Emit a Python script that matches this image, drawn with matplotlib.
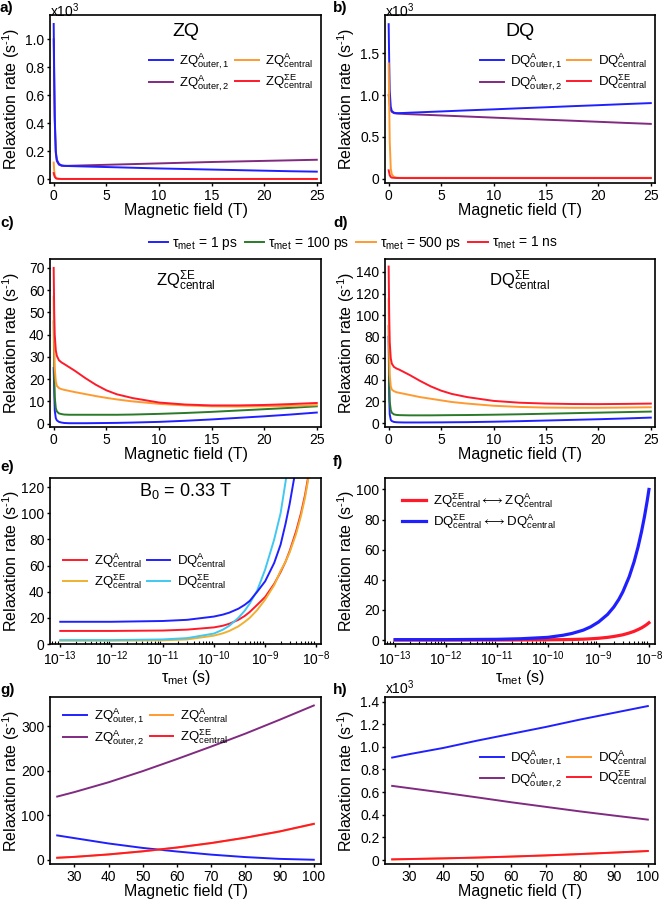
import matplotlib
matplotlib.use("Agg")
import matplotlib.pyplot as plt
from matplotlib.ticker import LogLocator, NullFormatter

plt.rcParams["font.family"] = ["Liberation Sans", "DejaVu Sans"]
plt.rcParams["mathtext.fontset"] = "custom"
plt.rcParams["mathtext.rm"] = "Liberation Sans"
plt.rcParams["mathtext.it"] = "Liberation Sans:italic"
plt.rcParams["mathtext.default"] = "regular"
plt.rcParams["axes.linewidth"] = 1.2

# colours
BLUE = "#2020ff"
PURPLE = "#802a80"
ORANGE = "#ff9a30"
RED = "#ff1a2a"
GREEN = "#2a7a2a"
GOLD = "#f0b030"
CYAN = "#40c8f0"

# ---- a) / b) : 0-25 T, values in 10^3 s^-1
B_low = [0, 0.05, 0.1, 0.2, 0.3, 0.5, 0.75, 1, 1.5, 2, 3, 5, 7.5, 10, 12.5, 15, 17.5, 20, 22.5, 25]
zq_out1 = [1.11, 0.75, 0.45, 0.2, 0.14, 0.11, 0.1, 0.097, 0.095, 0.094, 0.092, 0.088, 0.083, 0.078, 0.074, 0.07, 0.066, 0.062, 0.058, 0.055]
zq_out2 = [1.0, 0.7, 0.42, 0.19, 0.13, 0.105, 0.097, 0.096, 0.097, 0.098, 0.1, 0.104, 0.109, 0.114, 0.119, 0.124, 0.128, 0.132, 0.136, 0.14]
zq_cen = [0.12, 0.06, 0.03, 0.012, 0.006, 0.003, 0.002, 0.002, 0.002, 0.002, 0.002, 0.002, 0.002, 0.002, 0.002, 0.002, 0.002, 0.002, 0.002, 0.002]
zq_se = [0.045, 0.03, 0.018, 0.008, 0.005, 0.004, 0.003, 0.003, 0.003, 0.003, 0.003, 0.003, 0.003, 0.003, 0.003, 0.003, 0.003, 0.003, 0.003, 0.003]
dq_out1 = [1.85, 1.4, 1.05, 0.86, 0.81, 0.79, 0.785, 0.785, 0.787, 0.79, 0.795, 0.805, 0.818, 0.83, 0.843, 0.855, 0.868, 0.88, 0.893, 0.905]
dq_out2 = [1.0, 0.95, 0.88, 0.82, 0.8, 0.785, 0.78, 0.778, 0.775, 0.772, 0.767, 0.757, 0.744, 0.731, 0.718, 0.706, 0.694, 0.681, 0.668, 0.656]
dq_cen = [1.38, 0.9, 0.45, 0.12, 0.05, 0.02, 0.012, 0.01, 0.01, 0.01, 0.01, 0.01, 0.01, 0.01, 0.01, 0.01, 0.01, 0.01, 0.01, 0.01]
dq_se = [0.1, 0.07, 0.04, 0.02, 0.012, 0.01, 0.008, 0.008, 0.007, 0.007, 0.007, 0.007, 0.007, 0.007, 0.007, 0.007, 0.007, 0.007, 0.007, 0.007]

# ---- c) / d) : central SigmaE for several tau_met
B_cd = [0, 0.05, 0.1, 0.2, 0.3, 0.5, 0.75, 1, 1.5, 2, 3, 4, 5, 6, 7.5, 10, 12.5, 15, 17.5, 20, 22.5, 25]
tau_labels = ["1 ps", "100 ps", "500 ps", "1 ns"]
zq_se_1ps = [25, 15, 6, 2.5, 1.5, 0.8, 0.5, 0.3, 0.2, 0.2, 0.2, 0.25, 0.3, 0.35, 0.5, 0.8, 1.3, 1.9, 2.6, 3.3, 4.1, 5.0]
zq_se_100ps = [46, 22, 12, 7, 5.5, 4.6, 4.3, 4.1, 4.0, 4.0, 4.0, 4.0, 4.0, 4.0, 4.1, 4.4, 4.8, 5.3, 5.9, 6.5, 7.1, 7.8]
zq_se_500ps = [57, 35, 25, 19, 17, 16, 15.5, 15.2, 14.7, 14.2, 13.3, 12.4, 11.6, 10.9, 10.0, 8.9, 8.2, 7.8, 7.7, 7.8, 8.0, 8.3]
zq_se_1ns = [70, 50, 40, 33, 30.5, 28.5, 27.5, 26.8, 25.3, 23.8, 20.5, 17.5, 15, 13.2, 11.5, 9.5, 8.6, 8.2, 8.2, 8.4, 8.8, 9.3]
dq_se_1ps = [80, 25, 8, 3, 1.8, 1.0, 0.7, 0.6, 0.5, 0.5, 0.5, 0.55, 0.6, 0.7, 0.8, 1.2, 1.7, 2.3, 2.9, 3.5, 4.2, 5.0]
dq_se_100ps = [90, 40, 20, 12, 9.5, 8, 7.5, 7.3, 7.2, 7.1, 7.1, 7.1, 7.2, 7.3, 7.4, 7.7, 8.1, 8.6, 9.1, 9.6, 10.1, 10.6]
dq_se_500ps = [115, 70, 45, 34, 31, 29.5, 28.5, 28, 27, 26, 24, 22.5, 21, 19.5, 18, 16, 14.9, 14.3, 14.1, 14.1, 14.3, 14.6]
dq_se_1ns = [145, 100, 75, 60, 55, 52, 50.5, 49.5, 47, 44.5, 39, 34, 30, 27, 24, 20.5, 18.8, 18, 17.6, 17.5, 17.7, 18]

# ---- e) : rates vs tau_met at B0 = 0.33 T
tau_e = [1e-13, 1e-12, 1e-11, 3e-11, 1e-10, 1.5e-10, 2e-10, 3e-10, 4e-10, 5e-10, 7e-10, 1e-9,
         1.5e-9, 2e-9, 2.5e-9, 3e-9, 4e-9, 5e-9, 6e-9, 7e-9]
e_zq_a = [10, 10, 10.3, 11, 12.7, 14, 15.5, 18.5, 21.5, 24.5, 30, 36, 46, 55, 63, 71, 86, 100, 114, 129]
e_zq_se = [2.5, 2.5, 2.8, 3.5, 6.4, 8.2, 10, 13.5, 17, 20, 26, 34, 45, 56, 63, 70, 84, 98, 112, 127]
e_dq_a = [17, 17, 17.6, 18.5, 21, 22.5, 24, 27, 30, 33, 40, 48, 62, 76, 92, 107, 135, 160, 185, 210]
e_dq_se = [3, 3, 3.5, 4.5, 8, 11, 14, 20, 25.5, 31, 41, 57, 80, 100, 124, 148, 195, 240, 285, 330]

# ---- f) : cross relaxation
tau_f = [1e-13, 1e-12, 1e-11, 3e-11, 1e-10, 2e-10, 3e-10, 5e-10, 7e-10, 1e-9, 1.5e-9, 2e-9,
         2.5e-9, 3e-9, 4e-9, 5e-9, 6e-9, 7e-9, 8e-9, 9e-9, 9.8e-9]
f_zq = [0.05, 0.05, 0.06, 0.1, 0.2, 0.3, 0.4, 0.6, 0.85, 1.2, 1.8, 2.4, 3.0, 3.5, 4.7, 5.8, 7.0, 8.1, 9.3, 10.5, 11.5]
f_dq = [0.3, 0.3, 0.5, 0.9, 1.8, 3.2, 4.4, 6.6, 8.8, 12, 17, 22, 27, 32, 42, 52, 62, 72, 82, 92, 100]
tau_ticks = [1e-13, 1e-12, 1e-11, 1e-10, 1e-9, 1e-8]

# ---- g) / h) : 25-100 T
B_high = [25, 30, 40, 50, 60, 70, 80, 90, 100]
g_out1 = [55, 49, 37, 27, 19, 12, 6.5, 2.5, 0.5]
g_out2 = [142, 152, 174, 199, 226, 254, 283, 314, 346]
g_cen = [4.8, 6.8, 12.2, 19.2, 27.6, 37.6, 49.6, 63.5, 80.5]
g_se = [5, 7, 12.5, 19.5, 28, 38, 50, 64, 81]
h_out1 = [0.905, 0.935, 0.99, 1.055, 1.115, 1.175, 1.24, 1.30, 1.36]
h_out2 = [0.655, 0.635, 0.595, 0.553, 0.51, 0.47, 0.43, 0.393, 0.357]
h_cen = [0.005, 0.008, 0.014, 0.021, 0.03, 0.04, 0.052, 0.065, 0.079]
h_se = [0.006, 0.009, 0.015, 0.022, 0.031, 0.041, 0.053, 0.066, 0.08]

W, H = 665, 901
fig = plt.figure(figsize=(W / 100, H / 100), dpi=100)

FS_LAB = 11.5
FS_TICK = 10
FS_LEG = 9.5


def ax_at(l, t, r, b):
    a = fig.add_axes([l / W, 1 - b / H, (r - l) / W, (b - t) / H])
    a.tick_params(labelsize=FS_TICK, direction="out", length=2.5, width=1, pad=1.5)
    return a


def lab(s):
    # ("ZQ", "A", "outer,1") -> mathtext label
    name, sup, sub = s
    return name + r"$^{" + sup + r"}_{" + sub + r"}$"


def labels(a, xlab):
    a.set_xlabel(xlab, fontsize=FS_LAB, labelpad=0)
    a.set_ylabel(YLAB, fontsize=FS_LAB)
    a.yaxis.set_label_coords(-0.103, 0.5)


def x1000(a):
    # "x10^3" multiplier above the top-left corner
    bb = a.get_position()
    fig.text(bb.x0, 1 - 1.5 / H, r"x10$^3$", ha="left", va="top", fontsize=10)


LEFT = (50, 321)
RIGHT = (385, 655)
ROWS = [(15, 183), (259, 427), (478, 644), (697, 864)]
YLAB = r"Relaxation rate (s$^{\text{-}1}$)"
XLAB = "Magnetic field (T)"
TLAB = "τ$_{met}$ (s)"
LW = 1.4
leg_kw = dict(frameon=False, fontsize=FS_LEG, ncol=2, handlelength=1.8, handletextpad=0.5,
              columnspacing=0.4, labelspacing=0.15, borderaxespad=0.2)

# panel a
ax = ax_at(LEFT[0], ROWS[0][0], LEFT[1], ROWS[0][1])
ax.plot(B_low, zq_out2, color=PURPLE, lw=LW, label=lab(("ZQ", "A", "outer,2")))
ax.plot(B_low, zq_out1, color=BLUE, lw=LW, label=lab(("ZQ", "A", "outer,1")))
ax.plot(B_low, zq_cen, color=ORANGE, lw=LW, label=lab(("ZQ", "A", "central")))
ax.plot(B_low, zq_se, color=RED, lw=LW, label=lab(("ZQ", "ΣE", "central")))
ax.set_xlim(-0.35, 25.4)
ax.set_ylim(-0.026, 1.174)
ax.set_xticks([0, 5, 10, 15, 20, 25])
ax.set_yticks([0, 0.2, 0.4, 0.6, 0.8, 1.0])
ax.set_yticklabels(["0", "0.2", "0.4", "0.6", "0.8", "1.0"])
ax.text(0.5, 0.9, "ZQ", transform=ax.transAxes, ha="center", va="center", fontsize=14)
x1000(ax)
h, l = ax.get_legend_handles_labels()
ax.legend([h[1], h[0], h[2], h[3]], [l[1], l[0], l[2], l[3]], loc="upper right",
          bbox_to_anchor=(1.0, 0.83), **leg_kw)
labels(ax, XLAB)

# panel b
ax = ax_at(RIGHT[0], ROWS[0][0], RIGHT[1], ROWS[0][1])
ax.plot(B_low, dq_out2, color=PURPLE, lw=LW, label=lab(("DQ", "A", "outer,2")))
ax.plot(B_low, dq_out1, color=BLUE, lw=LW, label=lab(("DQ", "A", "outer,1")))
ax.plot(B_low, dq_cen, color=ORANGE, lw=LW, label=lab(("DQ", "A", "central")))
ax.plot(B_low, dq_se, color=RED, lw=LW, label=lab(("DQ", "ΣE", "central")))
ax.set_xlim(-0.35, 25.4)
ax.set_ylim(-0.052, 1.96)
ax.set_xticks([0, 5, 10, 15, 20, 25])
ax.set_yticks([0, 0.5, 1.0, 1.5])
ax.set_yticklabels(["0", "0.5", "1.0", "1.5"])
ax.text(0.5, 0.9, "DQ", transform=ax.transAxes, ha="center", va="center", fontsize=14)
x1000(ax)
h, l = ax.get_legend_handles_labels()
ax.legend([h[1], h[0], h[2], h[3]], [l[1], l[0], l[2], l[3]], loc="upper right",
          bbox_to_anchor=(1.0, 0.83), **leg_kw)
labels(ax, XLAB)

# panels c, d
tau_colors = [BLUE, GREEN, ORANGE, RED]
for (l_, r_), series, ylim, yt, name in [
    (LEFT, [zq_se_1ps, zq_se_100ps, zq_se_500ps, zq_se_1ns], (-1.5, 74), range(0, 71, 10), "ZQ"),
    (RIGHT, [dq_se_1ps, dq_se_100ps, dq_se_500ps, dq_se_1ns], (-3.7, 152), range(0, 141, 20), "DQ"),
]:
    ax = ax_at(l_, ROWS[1][0], r_, ROWS[1][1])
    for ys, c, tl in zip(series, tau_colors, tau_labels):
        ax.plot(B_cd, ys, color=c, lw=LW, label="τ$_{met}$ = " + tl)
    ax.set_xlim(-0.35, 25.4)
    ax.set_ylim(*ylim)
    ax.set_xticks([0, 5, 10, 15, 20, 25])
    ax.set_yticks(list(yt))
    ax.text(0.5, 0.87, lab((name, "ΣE", "central")), transform=ax.transAxes,
            ha="center", va="center", fontsize=12)
    labels(ax, XLAB)
h, l = ax.get_legend_handles_labels()
fig.legend(h, l, loc="center", bbox_to_anchor=(353 / W, 1 - 243 / H), ncol=4, frameon=False,
           fontsize=10, handlelength=1.4, handletextpad=0.3, columnspacing=0.5)

# panel e
ax = ax_at(LEFT[0], ROWS[2][0], LEFT[1], ROWS[2][1])
ax.plot(tau_e, e_zq_a, color=RED, lw=LW, label=lab(("ZQ", "A", "central")))
ax.plot(tau_e, e_zq_se, color=GOLD, lw=LW, label=lab(("ZQ", "ΣE", "central")))
ax.plot(tau_e, e_dq_se, color=CYAN, lw=LW, label=lab(("DQ", "ΣE", "central")))
ax.plot(tau_e, e_dq_a, color=BLUE, lw=LW, label=lab(("DQ", "A", "central")))
ax.set_xscale("log")
ax.set_xlim(10 ** -13.2, 10 ** -7.91)
ax.set_ylim(0, 127)
ax.set_yticks(range(0, 121, 20))
ax.text(0.5, 0.92, "B$_0$ = 0.33 T", transform=ax.transAxes, ha="center", va="center", fontsize=13)
h, l = ax.get_legend_handles_labels()
ax.legend([h[0], h[1], h[3], h[2]], [l[0], l[1], l[3], l[2]], loc="center left",
          bbox_to_anchor=(0.02, 0.44), **leg_kw)
labels(ax, TLAB)

# panel f
ax2 = ax_at(RIGHT[0], ROWS[2][0], RIGHT[1], ROWS[2][1])
arrow = r"$\longleftrightarrow$"
ax2.plot(tau_f, f_zq, color=RED, lw=2.3,
         label=lab(("ZQ", "ΣE", "central")) + arrow + lab(("ZQ", "A", "central")))
ax2.plot(tau_f, f_dq, color=BLUE, lw=2.3,
         label=lab(("DQ", "ΣE", "central")) + arrow + lab(("DQ", "A", "central")))
ax2.set_xscale("log")
ax2.set_xlim(10 ** -13.2, 10 ** -7.89)
ax2.set_ylim(-2.6, 107.6)
ax2.set_yticks(range(0, 101, 20))
ax2.legend(loc="upper left", bbox_to_anchor=(0.02, 0.99), frameon=False, fontsize=FS_LEG,
           handlelength=1.8, handletextpad=0.5, labelspacing=0.15)
labels(ax2, TLAB)

for a in (ax, ax2):
    a.set_xticks(tau_ticks)
    a.xaxis.set_minor_locator(LogLocator(base=10, subs=range(2, 10), numticks=100))
    a.xaxis.set_minor_formatter(NullFormatter())
    a.tick_params(axis="x", which="minor", direction="in", length=2.5, width=0.8)

# panel g
ax = ax_at(LEFT[0], ROWS[3][0], LEFT[1], ROWS[3][1])
ax.plot(B_high, g_out1, color=BLUE, lw=LW, label=lab(("ZQ", "A", "outer,1")))
ax.plot(B_high, g_out2, color=PURPLE, lw=LW, label=lab(("ZQ", "A", "outer,2")))
ax.plot(B_high, g_cen, color=ORANGE, lw=LW, label=lab(("ZQ", "A", "central")))
ax.plot(B_high, g_se, color=RED, lw=LW, label=lab(("ZQ", "ΣE", "central")))
ax.set_xlim(22.9, 102.1)
ax.set_ylim(-9, 365)
ax.set_xticks(range(30, 101, 10))
ax.set_yticks([0, 100, 200, 300])
ax.legend(loc="upper left", bbox_to_anchor=(0.02, 0.99), **leg_kw)
labels(ax, XLAB)

# panel h
ax = ax_at(RIGHT[0], ROWS[3][0], RIGHT[1], ROWS[3][1])
ax.plot(B_high, h_out1, color=BLUE, lw=LW, label=lab(("DQ", "A", "outer,1")))
ax.plot(B_high, h_out2, color=PURPLE, lw=LW, label=lab(("DQ", "A", "outer,2")))
ax.plot(B_high, h_cen, color=ORANGE, lw=LW, label=lab(("DQ", "A", "central")))
ax.plot(B_high, h_se, color=RED, lw=LW, label=lab(("DQ", "ΣE", "central")))
ax.set_xlim(22.9, 102.1)
ax.set_ylim(-0.035, 1.44)
ax.set_xticks(range(30, 101, 10))
ax.set_yticks([0, 0.2, 0.4, 0.6, 0.8, 1.0, 1.2, 1.4])
ax.set_yticklabels(["0", "0.2", "0.4", "0.6", "0.8", "1.0", "1.2", "1.4"])
ax.text(0.0, 1.0, r"x10$^3$", transform=ax.transAxes, ha="left", va="bottom", fontsize=10)
ax.legend(loc="center right", bbox_to_anchor=(1.0, 0.57), **leg_kw)
labels(ax, XLAB)

# panel letters
for txt, x, y in [("a)", 0, 8), ("b)", 333, 8), ("c)", 0, 223), ("d)", 333, 223),
                  ("e)", 0, 467), ("f)", 333, 462), ("g)", 0, 690), ("h)", 333, 690)]:
    fig.text(x / W, 1 - y / H, txt, fontsize=11, fontweight="bold", ha="left", va="center")

fig.savefig("out.png", dpi=100)
